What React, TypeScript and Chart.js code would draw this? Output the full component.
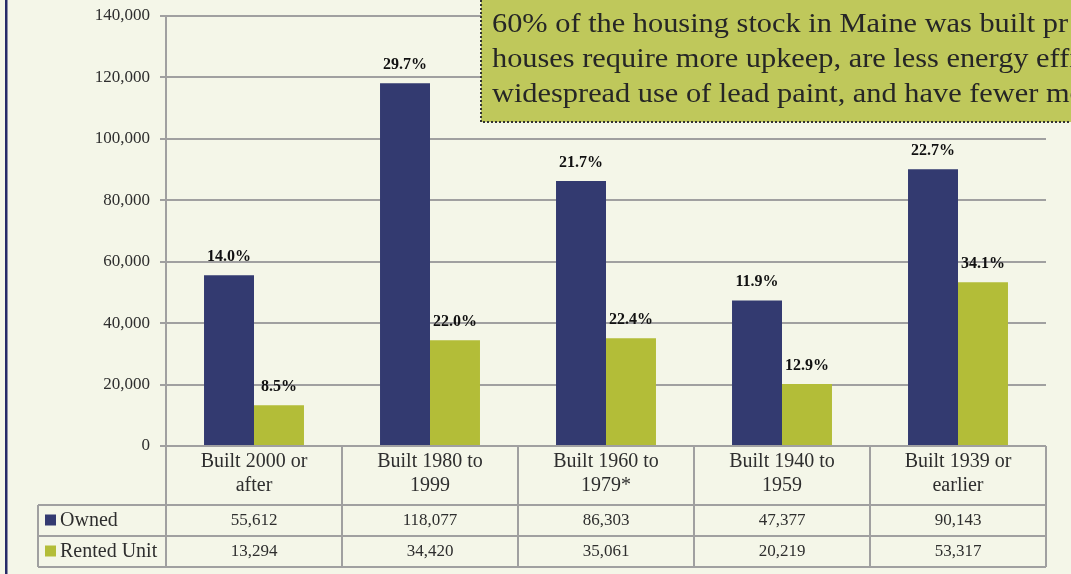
import React, { useEffect, useRef } from 'react';
import { Chart, registerables } from 'chart.js';

Chart.register(...registerables);

const categories: string[][] = [
  ['Built 2000 or', 'after'],
  ['Built 1980 to', '1999'],
  ['Built 1960 to', '1979*'],
  ['Built 1940 to', '1959'],
  ['Built 1939 or', 'earlier'],
];
const seriesNames = ['Owned', 'Rented Unit'];
const ownedValues = [55612, 118077, 86303, 47377, 90143];
const rentedValues = [13294, 34420, 35061, 20219, 53317];
const ownedPercents = ['14.0%', '29.7%', '21.7%', '11.9%', '22.7%'];
const rentedPercents = ['8.5%', '22.0%', '22.4%', '12.9%', '34.1%'];
const yMax = 140000;
const yStep = 20000;
const noteLines = [
  '60% of the housing stock in Maine was built pr',
  'houses require more upkeep, are less energy effic',
  'widespread use of lead paint, and have fewer mo',
];

const BG = '#f4f6e8';
const NAVY = '#333a70';
const GREEN = '#b3bd38';
const GRID = '#a0a0a0';
const TEXT = '#2e2e2e';
const SERIF = '"Liberation Serif", "Times New Roman", serif';

const fmt = (v: number) => v.toLocaleString('en-US');

const backgroundPlugin = {
  id: 'bg',
  beforeDraw(chart: any) {
    const { ctx, width, height } = chart;
    ctx.save();
    ctx.fillStyle = BG;
    ctx.fillRect(0, 0, width, height);
    ctx.restore();
  },
};

const percentLabels = [ownedPercents, rentedPercents];

const dataLabelPlugin = {
  id: 'pctLabels',
  afterDatasetsDraw(chart: any) {
    const { ctx } = chart;
    ctx.save();
    ctx.font = `bold 16px ${SERIF}`;
    ctx.fillStyle = '#111';
    ctx.textAlign = 'center';
    ctx.textBaseline = 'alphabetic';
    chart.data.datasets.forEach((_: any, di: number) => {
      const meta = chart.getDatasetMeta(di);
      meta.data.forEach((el: any, i: number) => {
        ctx.fillText(percentLabels[di][i], el.x, el.y - 14);
      });
    });
    ctx.restore();
  },
};

const tablePlugin = {
  id: 'dataTable',
  afterDraw(chart: any) {
    const { ctx, chartArea } = chart;
    const xs = chart.scales.x;
    const n = categories.length;
    const bounds: number[] = [chartArea.left];
    for (let i = 0; i < n - 1; i++) {
      bounds.push((xs.getPixelForValue(i) + xs.getPixelForValue(i + 1)) / 2);
    }
    bounds.push(chartArea.right);
    const top = chartArea.bottom;
    const headBottom = top + 59;
    const rowH = 31;
    const legendLeft = 38;
    const bottom = headBottom + rowH * 2;

    ctx.save();
    ctx.strokeStyle = GRID;
    ctx.lineWidth = 2;
    ctx.beginPath();
    [headBottom, headBottom + rowH, bottom].forEach((y) => {
      ctx.moveTo(legendLeft, y);
      ctx.lineTo(chartArea.right, y);
    });
    ctx.moveTo(legendLeft, headBottom);
    ctx.lineTo(legendLeft, bottom);
    bounds.forEach((x) => {
      ctx.moveTo(x, top);
      ctx.lineTo(x, bottom);
    });
    ctx.stroke();

    const rows = [ownedValues, rentedValues];
    const colors = [NAVY, GREEN];
    rows.forEach((vals, r) => {
      const yMid = headBottom + rowH * r + rowH / 2;
      ctx.fillStyle = colors[r];
      ctx.fillRect(45, yMid - 6, 11, 11);
      ctx.fillStyle = TEXT;
      ctx.font = `20px ${SERIF}`;
      ctx.textAlign = 'left';
      ctx.textBaseline = 'middle';
      ctx.fillText(seriesNames[r], 60, yMid);
      ctx.font = `17px ${SERIF}`;
      ctx.textAlign = 'center';
      vals.forEach((v, i) => {
        ctx.fillText(fmt(v), (bounds[i] + bounds[i + 1]) / 2, yMid);
      });
    });
    ctx.restore();

    // annotation note box
    ctx.save();
    const bx = 481;
    const by = -10;
    const bw = chart.width - bx + 20;
    const bh = 122 - by;
    ctx.fillStyle = '#bfc85b';
    ctx.fillRect(bx, by, bw, bh);
    ctx.strokeStyle = '#333';
    ctx.lineWidth = 2;
    ctx.setLineDash([2, 2]);
    ctx.strokeRect(bx, by, bw, bh);
    ctx.setLineDash([]);
    ctx.font = `27px ${SERIF}`;
    ctx.fillStyle = '#262626';
    ctx.textAlign = 'left';
    ctx.textBaseline = 'alphabetic';
    const w0 = ctx.measureText(noteLines[0]).width;
    const sx = (1068 - 492) / w0;
    noteLines.forEach((line, i) => {
      ctx.save();
      ctx.translate(492, 32 + i * 35);
      ctx.scale(sx, 1);
      ctx.fillText(line, 0, 0);
      ctx.restore();
    });
    ctx.restore();

    // left navy rule
    ctx.save();
    ctx.fillStyle = '#262b68';
    ctx.fillRect(5, 0, 2.5, chart.height);
    ctx.restore();
  },
};

export default function App() {
  const ref = useRef<HTMLCanvasElement | null>(null);

  useEffect(() => {
    document.body.style.margin = '0';
    document.body.style.background = BG;
    const canvas = ref.current;
    if (!canvas) return;
    const chart = new Chart(canvas, {
      type: 'bar',
      data: {
        labels: categories,
        datasets: [
          {
            label: seriesNames[0],
            data: ownedValues,
            backgroundColor: NAVY,
            borderWidth: 0,
            categoryPercentage: 0.568,
            barPercentage: 1,
          },
          {
            label: seriesNames[1],
            data: rentedValues,
            backgroundColor: GREEN,
            borderWidth: 0,
            categoryPercentage: 0.568,
            barPercentage: 1,
          },
        ],
      },
      options: {
        animation: false,
        responsive: false,
        devicePixelRatio: 1,
        layout: { padding: { left: 0, right: 25, top: 16, bottom: 0 } },
        plugins: {
          legend: { display: false },
          tooltip: { enabled: false },
          title: { display: false },
        },
        scales: {
          x: {
            type: 'category',
            offset: true,
            grid: { display: false, drawTicks: false },
            border: { display: false },
            ticks: {
              color: TEXT,
              font: { family: SERIF, size: 20, lineHeight: 1.23 },
              padding: 3,
              maxRotation: 0,
              minRotation: 0,
              autoSkip: false,
            },
            afterFit(scale: any) {
              scale.height = 128;
              scale.paddingLeft = 0;
              scale.paddingRight = 0;
            },
          },
          y: {
            min: 0,
            max: yMax,
            grid: { color: GRID, lineWidth: 2, tickLength: 6, drawTicks: true },
            border: { display: true, color: GRID, width: 2 },
            ticks: {
              stepSize: yStep,
              color: TEXT,
              font: { family: SERIF, size: 17 },
              padding: 10,
              callback: (v: any) => fmt(Number(v)),
            },
            afterFit(scale: any) {
              scale.width = 166;
              scale.paddingTop = 0;
              scale.paddingBottom = 0;
            },
          },
        },
      },
      plugins: [backgroundPlugin, dataLabelPlugin, tablePlugin],
    });
    return () => chart.destroy();
  }, []);

  return (
    <div style={{ width: 1071, height: 574, background: BG }}>
      <canvas ref={ref} width={1071} height={574} style={{ display: 'block' }} />
    </div>
  );
}
